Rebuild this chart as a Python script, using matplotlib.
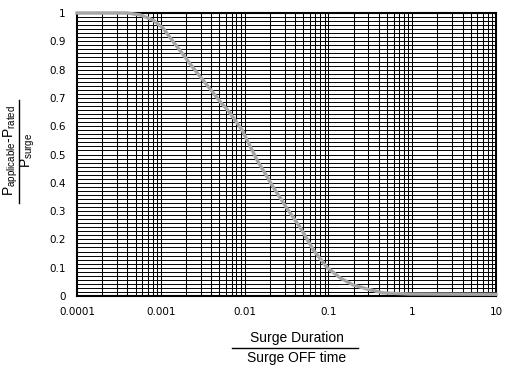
import matplotlib.pyplot as plt
import numpy as np
from matplotlib.lines import Line2D

plt.rcParams['mathtext.default'] = 'regular'

# curve (duty ratio vs. power ratio)
ratio = [0.0001, 0.0004, 0.00057, 0.00081, 0.00107, 0.00141, 0.00186, 0.00245,
         0.00354, 0.0051, 0.0067, 0.0093, 0.0141, 0.0219, 0.033, 0.0457,
         0.066, 0.0955, 0.138, 0.197, 0.288, 0.447, 0.93, 10]
power = [1.0, 1.0, 0.993, 0.975, 0.946, 0.898, 0.852, 0.805,
         0.746, 0.687, 0.647, 0.587, 0.48, 0.385, 0.304, 0.244,
         0.163, 0.102, 0.064, 0.039, 0.025, 0.011, 0.007, 0.006]

xticks = [0.0001, 0.001, 0.01, 0.1, 1, 10]
xlabels = ['0.0001', '0.001', '0.01', '0.1', '1', '10']
yticks = np.round(np.arange(0, 1.01, 0.1), 1)
ylabels = ['0', '0.1', '0.2', '0.3', '0.4', '0.5', '0.6', '0.7', '0.8', '0.9', '1']

fig = plt.figure(figsize=(5.14, 3.67), dpi=100)
ax = fig.add_axes([77 / 514, 71 / 367, 419 / 514, 283 / 367])

ax.set_xscale('log')
ax.set_xlim(0.0001, 10)
ax.set_ylim(0, 1)

# grid: log minor verticals, fine horizontals (about 70 rows)
for dec in [0.0001, 0.001, 0.01, 0.1, 1]:
    for k in range(1, 10):
        ax.axvline(dec * k, color='black', lw=0.75, zorder=1)
for yv in np.linspace(0, 1, 71):
    ax.axhline(yv, color='black', lw=0.7, zorder=1)

ax.plot(ratio, power, color='#a6a6a6', lw=2.4, zorder=3, clip_on=False)

ax.set_xticks(xticks)
ax.set_xticklabels(xlabels, fontsize=7.5)
ax.set_xticks([], minor=True)
ax.set_yticks(yticks)
ax.set_yticklabels(ylabels, fontsize=7.5)
ax.tick_params(length=0, pad=8)
for s in ax.spines.values():
    s.set_linewidth(1.5)

# y label as a fraction
fig.text(11 / 514, 1 - 150 / 367, r'$P_{applicable}$-$P_{rated}$', rotation=90,
         ha='center', va='center', fontsize=10, family='Liberation Sans')
fig.add_artist(Line2D([19 / 514, 19 / 514], [1 - 100 / 367, 1 - 203 / 367],
                      color='black', lw=1))
fig.text(28 / 514, 1 - 150 / 367, r'$P_{surge}$', rotation=90,
         ha='center', va='center', fontsize=10, family='Liberation Sans')

# x label as a fraction
fig.text(297 / 514, 1 - 338 / 367, 'Surge Duration', ha='center', va='center',
         fontsize=10, family='Liberation Sans')
fig.add_artist(Line2D([232 / 514, 358 / 514], [1 - 348 / 367, 1 - 348 / 367],
                      color='black', lw=1))
fig.text(297 / 514, 1 - 358 / 367, 'Surge OFF time', ha='center', va='center',
         fontsize=10, family='Liberation Sans')

fig.savefig('out.png', dpi=100)
